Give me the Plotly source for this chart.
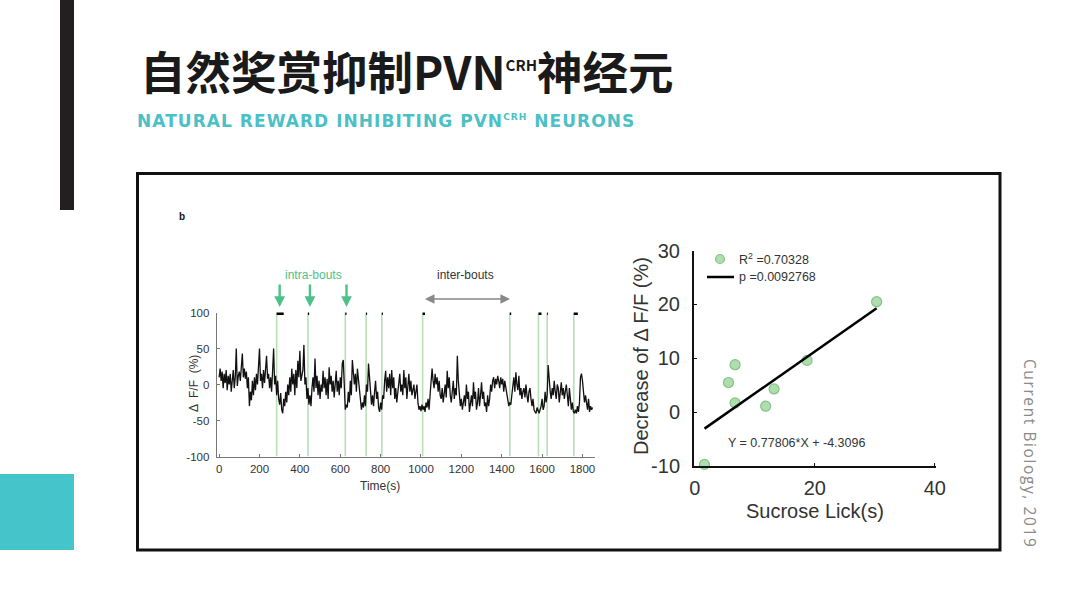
import plotly.graph_objects as go

W, H = 1080, 608
def px(x): return x / W
def py(y): return 1 - y / H

# ---------------- data ----------------
trace_dt = 5  # seconds between samples
trace_values = [
    10, 22, 5, 18, -5, 15, 2, 20, -8, 12,
    0, 15, -10, 8, 20, -5, 10, 50, -2, 12,
    18, 5, 25, 43, 10, 22, 8, 18, -5, 10,
    -30, -10, -22, 5, -15, 10, -8, 15, 0, 20,
    50, 5, 15, -5, 20, 2, 25, 40, 8, 15,
    -5, 10, -10, 18, 50, 0, 12, -15, 5, -20,
    -28, -12, -35, -40, -20, -30, -10, -25, 0, -15,
    10, -10, 22, 0, 15, -15, 20, -5, 33, 10,
    47, 5, 15, 20, 55, 0, 10, -20, -5, -28,
    -15, -30, -5, 10, -10, 36, -5, 12, -15, 5,
    -20, 0, -10, 19, -5, 10, -15, 8, -20, 24,
    0, 12, -10, 5, -18, 2, 19, -10, 5, -15,
    10, -5, 29, 34, -20, -35, -28, -32, -10, -25,
    5, -15, 34, 10, 0, 15, -10, 22, 5, -10,
    -20, -35, -25, -32, -15, -30, 0, -10, 29, 10,
    -5, -28, -15, -30, -10, 5, -20, -10, -32, -38,
    -25, -35, -15, -20, 5, 19, -10, 10, -5, 15,
    -15, 20, -5, 10, -20, -5, -25, -10, 5, 15,
    -10, 0, -15, 20, -5, 10, -20, 0, 15, -10,
    5, -15, -5, 0, -20, -10, 0, -25, -35, -30,
    -37, -28, -35, -30, -38, -25, -32, -20, -35, -15,
    10, 22, 5, -5, 15, 0, 10, -10, 5, -15,
    -20, -5, -25, -10, 0, -18, 19, -5, 10, -15,
    -25, -10, 5, -20, -5, -15, 40, 5, -20, -30,
    -20, -35, -25, -15, -30, 0, -20, -10, -38, -25,
    -15, -30, 3, -20, -10, -35, -25, -5, -30, -15,
    3, -20, -10, -30, -25, -38, -15, -30, -20, 0,
    -10, 5, 10, -5, 8, 0, 12, 5, -5, 10,
    0, 8, -10, 5, -5, -15, -20, -30, -25, -28,
    -15, -5, 10, -10, 17, 0, -8, 12, -15, -5,
    -20, -10, -5, -18, 0, -15, -25, -10, -5, -20,
    -30, -20, -35, -38, -40, -32, -38, -40, -35, -30,
    -20, -35, -30, -10, -25, -15, 27, 0, -10, -20,
    -5, -15, 5, -10, -20, 0, -5, -25, -8, 3,
    -15, -5, -20, -10, 0, -15, -30, -5, -20, -35,
    -25, -38, -40, -35, -40, -30, -38, -25, 10, 15,
    5, -10, -25, -15, -30, -35, -20, -38, -30, -35,
    -32,
]
trace_time = [i * trace_dt for i in range(len(trace_values))]

bout_start = [285, 440, 625, 728, 806, 1008, 1440, 1582, 1625, 1757]
bout_end = [320, 446, 631, 733, 811, 1020, 1447, 1597, 1629, 1777]
intra_arrow_t = [300, 450, 631]
inter_span = [1012, 1441]
time_ticks = [0, 200, 400, 600, 800, 1000, 1200, 1400, 1600, 1800]
dff_ticks = [-100, -50, 0, 50, 100]

lick_s = [30.3, 6.7, 18.7, 5.6, 6.7, 13.2, 11.8, 1.6]
decrease_pct = [20.5, 8.8, 9.6, 5.5, 1.7, 4.3, 1.1, -9.7]
fit_slope = 0.77806
fit_intercept = -4.3096
r2_text = "0.70328"
p_text = "0.0092768"
lick_ticks = [0, 20, 40]
dec_ticks = [-10, 0, 10, 20, 30]

GREEN = "#4cc28a"
LINE_GREEN = "#b9dfb9"
TEAL = "#4bc0c6"

fig = go.Figure()

# ---------------- left chart ----------------
vx, vy = [], []
for s in bout_start:
    vx += [s, s, None]
    vy += [-100, 100, None]
fig.add_trace(go.Scatter(x=vx, y=vy, mode="lines", line=dict(color=LINE_GREEN, width=1.6),
                         xaxis="x", yaxis="y", showlegend=False, hoverinfo="skip"))
fig.add_trace(go.Scatter(x=trace_time, y=trace_values, mode="lines",
                         line=dict(color="#111111", width=1.3),
                         xaxis="x", yaxis="y", showlegend=False))
bx, by = [], []
for s, e in zip(bout_start, bout_end):
    bx += [s, e, None]
    by += [100, 100, None]
fig.add_trace(go.Scatter(x=bx, y=by, mode="lines", line=dict(color="#000000", width=5),
                         xaxis="x", yaxis="y", showlegend=False, cliponaxis=False))

# ---------------- right chart ----------------
fit_x = [min(lick_s), max(lick_s)]
fit_y = [fit_slope * v + fit_intercept for v in fit_x]
fig.add_trace(go.Scatter(x=lick_s, y=decrease_pct, mode="markers",
                         marker=dict(size=10, color="rgba(160,215,160,0.85)",
                                     line=dict(color="#86c286", width=1.2)),
                         xaxis="x2", yaxis="y2", showlegend=False, cliponaxis=False))
fig.add_trace(go.Scatter(x=fit_x, y=fit_y, mode="lines", line=dict(color="#000000", width=2.5),
                         xaxis="x2", yaxis="y2", showlegend=False))

axis_font_small = dict(family="Liberation Sans, Arial", size=11.5, color="#333333")
axis_font_big = dict(family="Liberation Sans, Arial", size=20, color="#333333")

fig.update_layout(
    width=W, height=H, margin=dict(l=0, r=0, t=0, b=0, autoexpand=False),
    paper_bgcolor="white", plot_bgcolor="rgba(0,0,0,0)",
    xaxis=dict(domain=[px(216.7), px(595)], range=[-12, 1862], tickvals=time_ticks,
               showgrid=False, zeroline=False, showline=True, linecolor="#777777", linewidth=1,
               ticks="inside", ticklen=3, tickcolor="#777777", tickfont=axis_font_small,
               ticklabelstandoff=2, anchor="y"),
    yaxis=dict(domain=[py(456.5), py(312.5)], range=[-100, 100], tickvals=dff_ticks,
               ticktext=[str(v) for v in dff_ticks],
               showgrid=False, zeroline=False, showline=True, linecolor="#777777", linewidth=1,
               ticks="inside", ticklen=3, tickcolor="#777777", tickfont=axis_font_small,
               ticklabelstandoff=4, anchor="x"),
    xaxis2=dict(domain=[px(694), px(936)], range=[-0.15, 40.2], tickvals=lick_ticks,
                showgrid=False, zeroline=False, showline=True, linecolor="#111111", linewidth=2,
                ticks="inside", ticklen=3, tickcolor="#111111", tickfont=axis_font_big,
                ticklabelstandoff=3, anchor="y2"),
    yaxis2=dict(domain=[py(466), py(250.5)], range=[-10, 30], tickvals=dec_ticks,
                ticktext=[str(v) for v in dec_ticks],
                showgrid=False, zeroline=False, showline=True, linecolor="#111111", linewidth=2,
                ticks="inside", ticklen=3, tickcolor="#111111", tickfont=axis_font_big,
                ticklabelstandoff=8, anchor="x2"),
)

shapes = [
    dict(type="rect", xref="paper", yref="paper", x0=px(60), x1=px(74), y0=py(210), y1=py(-5),
         fillcolor="#231f20", line=dict(width=0), layer="below"),
    dict(type="rect", xref="paper", yref="paper", x0=px(-5), x1=px(74), y0=py(550), y1=py(474),
         fillcolor="#45c4c9", line=dict(width=0), layer="below"),
    dict(type="rect", xref="paper", yref="paper", x0=px(137.5), x1=px(1000), y0=py(550), y1=py(173.5),
         fillcolor="rgba(0,0,0,0)", line=dict(color="#111111", width=3), layer="below"),
    dict(type="circle", xref="paper", yref="paper", x0=px(715.5), x1=px(724.5), y0=py(263.5), y1=py(254.5),
         fillcolor="rgba(160,215,160,0.85)", line=dict(color="#86c286", width=1.2)),
    dict(type="line", xref="paper", yref="paper", x0=px(707), x1=px(734), y0=py(277), y1=py(277),
         line=dict(color="#000000", width=2.5)),
]
fig.update_layout(shapes=shapes)

def label(text, x, y, size, color="#333333", family="Liberation Sans", angle=0, xanchor="center"):
    return dict(text=text, x=px(x), y=py(y), xref="paper", yref="paper", showarrow=False,
                xanchor=xanchor, yanchor="middle", textangle=angle,
                font=dict(family=family, size=size, color=color))

ann = []
ann.append(label('<b>自然奖赏抑制PVN<sup><span style="font-size:15px">CRH</span></sup>神经元</b>',
                 138, 70, 45.5, color="#1a1a1a", family="Noto Sans CJK SC", xanchor="left"))
ann.append(label('<b><span style="letter-spacing:1.05px">NATURAL REWARD INHIBITING PVN'
                 '<sup><span style="font-size:9px">CRH</span></sup> NEURONS</span></b>',
                 135, 121, 17, color=TEAL, family="DejaVu Sans", xanchor="left"))
ann.append(label('<span style="letter-spacing:1.6px">Current Biology, 2019</span>', 1030, 453, 15.5,
                 color="#8a8a8a", family="Open Sans", angle=90))
ann.append(label("<b>b</b>", 182, 216, 10, color="#111111"))
ann.append(label("Δ  F/F  (%)", 194, 384, 12, angle=-90))
ann.append(label("Time(s)", 380, 486, 12))
ann.append(label("intra-bouts", 313, 275, 12, color=GREEN))
ann.append(label("inter-bouts", 465, 275, 12))
for t in intra_arrow_t:
    ann.append(dict(x=t, y=py(307), xref="x", yref="paper", ax=0, ay=-24,
                    text="", showarrow=True, arrowhead=2, arrowsize=0.9, arrowwidth=2.4,
                    arrowcolor=GREEN))
ann.append(dict(x=inter_span[1], y=py(299), xref="x", yref="paper", ax=inter_span[0], ay=0,
                axref="x", text="", showarrow=True, arrowhead=2, arrowside="end+start",
                arrowsize=1.2, arrowwidth=1.6, arrowcolor="#888888"))
ann.append(label("Decrease of Δ F/F (%)", 641, 356, 20, angle=-90))
ann.append(label("Sucrose Lick(s)", 815, 511, 20))
ann.append(label("R<sup>2</sup> =" + r2_text, 737, 259, 12.5, xanchor="left"))
ann.append(label("p =" + p_text, 737, 277, 12.5, xanchor="left"))
ann.append(label(f"Y = {fit_slope}*X + {fit_intercept}", 796, 443, 12.5))
fig.update_layout(annotations=ann)

fig.write_html("out.html", post_script="document.body.style.margin='0';document.body.style.overflow='hidden';")
